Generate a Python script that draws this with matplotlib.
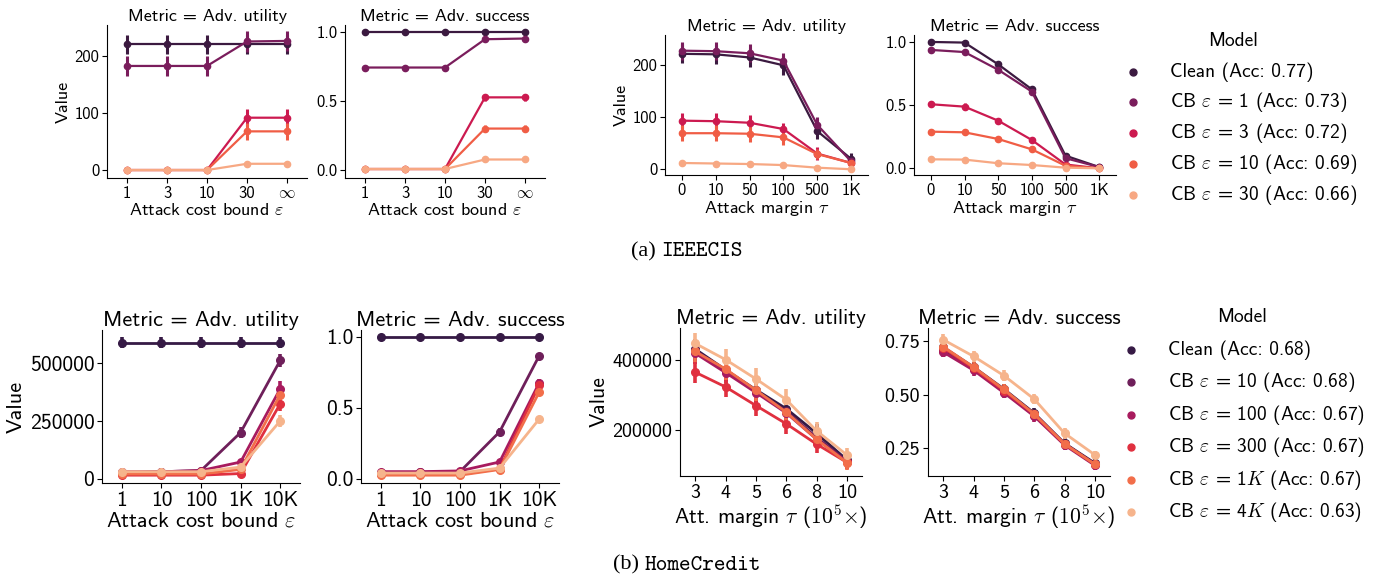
import matplotlib
matplotlib.use("Agg")
import matplotlib.pyplot as plt
from matplotlib.lines import Line2D

plt.rcParams["font.family"] = ["cmss10", "DejaVu Sans"]
plt.rcParams["mathtext.fontset"] = "cm"
plt.rcParams["axes.unicode_minus"] = False
plt.rcParams["axes.formatter.use_mathtext"] = False

W, H = 1380, 580

# ---- data: IEEECIS ----
ieee_models = ["Clean (Acc: 0.77)", "CB $\\varepsilon$ = 1 (Acc: 0.73)", "CB $\\varepsilon$ = 3 (Acc: 0.72)",
               "CB $\\varepsilon$ = 10 (Acc: 0.69)", "CB $\\varepsilon$ = 30 (Acc: 0.66)"]
ieee_colors = ["#3b1a40", "#7a1d5c", "#cc1a50", "#f05d45", "#f7a883"]

ieee_eps = ["1", "3", "10", "30", "$\\infty$"]
ieee_eps_util = [
    [221, 221, 221, 221, 221],
    [183, 183, 183, 226, 227],
    [0, 0, 0, 92, 92],
    [0, 0, 0, 68, 68],
    [0, 0, 0, 11, 11],
]
ieee_eps_util_err = [
    [17, 17, 17, 17, 17],
    [18, 18, 18, 18, 18],
    [1, 1, 1, 15, 15],
    [1, 1, 1, 15, 15],
    [1, 1, 1, 3, 3],
]
ieee_eps_succ = [
    [1.0, 1.0, 1.0, 1.0, 1.0],
    [0.74, 0.74, 0.74, 0.945, 0.95],
    [0.005, 0.005, 0.005, 0.524, 0.524],
    [0.005, 0.005, 0.005, 0.298, 0.298],
    [0.005, 0.005, 0.005, 0.074, 0.074],
]
ieee_eps_succ_err = [
    [0.0, 0.0, 0.0, 0.0, 0.0],
    [0.02, 0.02, 0.02, 0.01, 0.01],
    [0.005, 0.005, 0.005, 0.025, 0.025],
    [0.005, 0.005, 0.005, 0.025, 0.025],
    [0.003, 0.003, 0.003, 0.01, 0.01],
]

ieee_tau = ["0", "10", "50", "100", "500", "1K"]
ieee_tau_util = [
    [221, 220, 214, 199, 73, 20],
    [227, 226, 222, 208, 85, 15],
    [93, 92, 89, 77, 30, 12],
    [69, 69, 68, 61, 29, 12],
    [12, 11, 10, 8, 3, 0],
]
ieee_tau_util_err = [
    [18, 18, 18, 18, 15, 12],
    [17, 17, 17, 15, 15, 10],
    [15, 15, 15, 12, 12, 8],
    [15, 15, 15, 15, 10, 8],
    [3, 3, 3, 3, 2, 1],
]
ieee_tau_succ = [
    [1.0, 0.995, 0.823, 0.625, 0.10, 0.01],
    [0.937, 0.92, 0.78, 0.607, 0.08, 0.01],
    [0.507, 0.488, 0.377, 0.224, 0.03, 0.0],
    [0.29, 0.285, 0.232, 0.15, 0.02, 0.0],
    [0.071, 0.069, 0.04, 0.026, 0.005, 0.0],
]
ieee_tau_succ_err = [
    [0.005, 0.005, 0.02, 0.02, 0.015, 0.005],
    [0.01, 0.015, 0.02, 0.02, 0.015, 0.005],
    [0.025, 0.025, 0.025, 0.025, 0.01, 0.003],
    [0.025, 0.025, 0.025, 0.02, 0.01, 0.003],
    [0.01, 0.01, 0.008, 0.006, 0.003, 0.002],
]

# ---- data: HomeCredit ----
hc_models = ["Clean (Acc: 0.68)", "CB $\\varepsilon$ = 10 (Acc: 0.68)", "CB $\\varepsilon$ = 100 (Acc: 0.67)",
             "CB $\\varepsilon$ = 300 (Acc: 0.67)", "CB $\\varepsilon$ = 1$K$ (Acc: 0.67)",
             "CB $\\varepsilon$ = 4$K$ (Acc: 0.63)"]
hc_colors = ["#361a45", "#6e1f5a", "#a81b5e", "#e0303f", "#f26e4a", "#f6b48c"]

hc_eps = ["1", "10", "100", "1K", "10K"]
hc_eps_util = [
    [590000, 590000, 590000, 590000, 590000],
    [25000, 30000, 35000, 200000, 513000],
    [30000, 30000, 35000, 72000, 390000],
    [15000, 15000, 15000, 22000, 325000],
    [20000, 20000, 20000, 40000, 365000],
    [30000, 30000, 30000, 50000, 250000],
]
hc_eps_util_err = [
    [25000, 25000, 25000, 25000, 25000],
    [8000, 8000, 8000, 25000, 28000],
    [8000, 8000, 8000, 12000, 32000],
    [6000, 6000, 6000, 8000, 30000],
    [6000, 6000, 6000, 8000, 28000],
    [6000, 6000, 6000, 8000, 28000],
]
hc_eps_succ = [
    [1.0, 1.0, 1.0, 1.0, 1.0],
    [0.04, 0.045, 0.05, 0.33, 0.866],
    [0.05, 0.05, 0.055, 0.118, 0.675],
    [0.03, 0.03, 0.03, 0.07, 0.66],
    [0.025, 0.025, 0.025, 0.065, 0.61],
    [0.04, 0.04, 0.04, 0.075, 0.42],
]
hc_eps_succ_err = [
    [0.002, 0.002, 0.002, 0.002, 0.002],
    [0.01, 0.01, 0.01, 0.025, 0.02],
    [0.01, 0.01, 0.01, 0.015, 0.025],
    [0.008, 0.008, 0.008, 0.01, 0.025],
    [0.008, 0.008, 0.008, 0.01, 0.025],
    [0.008, 0.008, 0.008, 0.01, 0.025],
]

hc_tau = ["3", "4", "5", "6", "8", "10"]
hc_tau_util = [
    [432000, 373000, 316000, 262000, 192000, 116000],
    [428000, 370000, 312000, 255000, 180000, 112000],
    [420000, 365000, 308000, 250000, 175000, 110000],
    [366000, 324000, 271000, 219000, 161000, 109000],
    [425000, 375000, 315000, 252000, 175000, 108000],
    [448000, 402000, 347000, 288000, 199000, 130000],
]
hc_tau_util_err = [
    [30000, 30000, 30000, 30000, 25000, 20000],
    [30000, 30000, 30000, 30000, 25000, 20000],
    [30000, 30000, 30000, 30000, 25000, 20000],
    [30000, 30000, 30000, 30000, 25000, 20000],
    [30000, 30000, 30000, 30000, 25000, 20000],
    [30000, 30000, 30000, 30000, 25000, 20000],
]
hc_tau_succ = [
    [0.723, 0.63, 0.527, 0.414, 0.273, 0.18],
    [0.71, 0.62, 0.515, 0.405, 0.27, 0.175],
    [0.70, 0.615, 0.51, 0.40, 0.265, 0.17],
    [0.72, 0.625, 0.52, 0.41, 0.27, 0.175],
    [0.725, 0.63, 0.525, 0.41, 0.27, 0.175],
    [0.758, 0.68, 0.59, 0.48, 0.32, 0.219],
]
hc_tau_succ_err = [
    [0.025, 0.025, 0.025, 0.025, 0.025, 0.02],
    [0.025, 0.025, 0.025, 0.025, 0.025, 0.02],
    [0.025, 0.025, 0.025, 0.025, 0.025, 0.02],
    [0.025, 0.025, 0.025, 0.025, 0.025, 0.02],
    [0.025, 0.025, 0.025, 0.025, 0.025, 0.02],
    [0.025, 0.025, 0.025, 0.025, 0.025, 0.02],
]


fig = plt.figure(figsize=(W / 100, H / 100), dpi=100)


def px_axes(left, top, right, bottom):
    return fig.add_axes([left / W, 1 - bottom / H, (right - left) / W, (bottom - top) / H])


def point_panel(box, cats, series, errs, colors, ylim, yticks, yticklabels,
                title, xlabel, ylabel, tfs, lfs, ms, lw):
    ax = px_axes(*box)
    x = list(range(len(cats)))
    for vals, err, c in zip(series, errs, colors):
        ax.errorbar(x, vals, yerr=err, color=c, marker="o", ms=ms, lw=lw,
                    elinewidth=lw + 0.6, capsize=0)
    ax.set_xlim(-0.5, len(cats) - 0.5)
    ax.set_ylim(*ylim)
    ax.set_xticks(x)
    ax.set_xticklabels(cats, fontsize=tfs)
    ax.set_yticks(yticks)
    ax.set_yticklabels(yticklabels, fontsize=tfs)
    ax.set_title(title, fontsize=lfs, pad=3)
    ax.set_xlabel(xlabel, fontsize=lfs, labelpad=1)
    if ylabel:
        ax.set_ylabel(ylabel, fontsize=lfs, labelpad=3)
    ax.spines["top"].set_visible(False)
    ax.spines["right"].set_visible(False)
    ax.tick_params(length=3.5, pad=2)
    return ax


t_util = "Metric = Adv. utility"
t_succ = "Metric = Adv. success"
eps_lab = "Attack cost bound $\\varepsilon$"
tau_lab = "Attack margin $\\tau$"
tau_lab2 = "Att. margin $\\tau$ ($10^5$$\\times$)"

# row (a)
point_panel((107, 25, 307, 178), ieee_eps, ieee_eps_util, ieee_eps_util_err, ieee_colors,
            (-14, 255), [0, 100, 200], ["0", "100", "200"], t_util, eps_lab, "Value", 12, 13, 4.5, 1.6)
point_panel((345, 25, 545, 178), ieee_eps, ieee_eps_succ, ieee_eps_succ_err, ieee_colors,
            (-0.06, 1.048), [0, 0.5, 1.0], ["0.0", "0.5", "1.0"], t_succ, eps_lab, None, 12, 13, 4.5, 1.6)
point_panel((665, 35, 868, 175), ieee_tau, ieee_tau_util, ieee_tau_util_err, ieee_colors,
            (-11, 257), [0, 100, 200], ["0", "100", "200"], t_util, tau_lab, "Value", 12, 13, 4.5, 1.6)
point_panel((914, 35, 1116, 175), ieee_tau, ieee_tau_succ, ieee_tau_succ_err, ieee_colors,
            (-0.053, 1.055), [0, 0.5, 1.0], ["0.0", "0.5", "1.0"], t_succ, tau_lab, None, 12, 13, 4.5, 1.6)

# row (b)
point_panel((102, 330, 300, 483), hc_eps, hc_eps_util, hc_eps_util_err, hc_colors,
            (-19000, 645000), [0, 250000, 500000], ["0", "250000", "500000"], t_util, eps_lab, "Value",
            15.5, 16, 5.5, 2.0)
point_panel((361, 330, 559, 483), hc_eps, hc_eps_succ, hc_eps_succ_err, hc_colors,
            (-0.03, 1.047), [0, 0.5, 1.0], ["0.0", "0.5", "1.0"], t_succ, eps_lab, None, 15.5, 16, 5.5, 2.0)
point_panel((680, 328, 862, 476), hc_tau, hc_tau_util, hc_tau_util_err, hc_colors,
            (70000, 492000), [200000, 400000], ["200000", "400000"], t_util, tau_lab2, "Value",
            14.5, 15.5, 5.5, 2.0)
point_panel((928, 328, 1110, 476), hc_tau, hc_tau_succ, hc_tau_succ_err, hc_colors,
            (0.12, 0.8125), [0.25, 0.5, 0.75], ["0.25", "0.50", "0.75"], t_succ, tau_lab2, None,
            14.5, 15.5, 5.5, 2.0)


def legend_block(title, title_xy, labels, colors, marker_x, text_x, ys, fs):
    fig.text(title_xy[0] / W, 1 - title_xy[1] / H, title, fontsize=fs, ha="center", va="center")
    for lab, c, y in zip(labels, colors, ys):
        fig.add_artist(Line2D([marker_x / W], [1 - y / H], marker="o", ms=5, color=c,
                              lw=0, transform=fig.transFigure))
        fig.text(text_x / W, 1 - y / H, lab, fontsize=fs, ha="left", va="center")


legend_block("Model", (1233, 41), ieee_models, ieee_colors, 1133, 1170,
             [72, 102, 133, 164, 195], 14)
legend_block("Model", (1242, 317), hc_models, hc_colors, 1131, 1168,
             [350, 382, 415, 447, 480, 512], 14)

# sub-captions
fig.text(661 / W, 1 - 252 / H, "(a) ", fontsize=16, ha="right", va="center", family="Liberation Serif")
fig.text(661 / W, 1 - 252 / H, "IEEECIS", fontsize=16, ha="left", va="center", family="cmtt10")
fig.text(645 / W, 1 - 565 / H, "(b) ", fontsize=16, ha="right", va="center", family="Liberation Serif")
fig.text(645 / W, 1 - 565 / H, "HomeCredit", fontsize=16, ha="left", va="center", family="cmtt10")

fig.savefig("out.png", dpi=100)
